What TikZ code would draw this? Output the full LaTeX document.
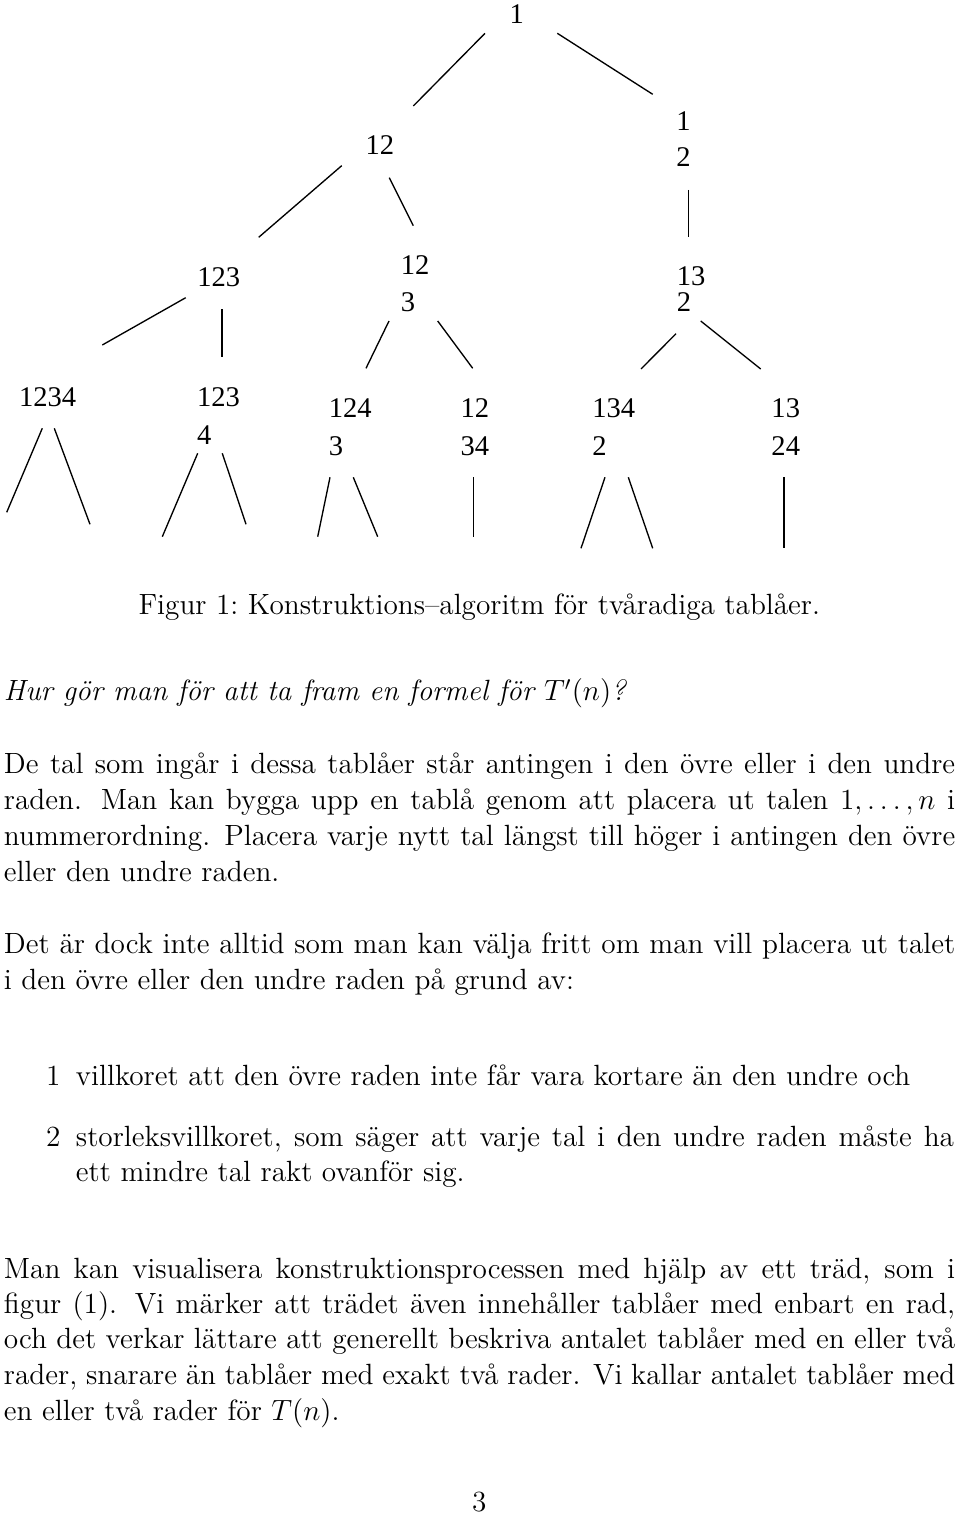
\documentclass[tikz,border=0pt]{standalone}
\usepackage{fontspec}
\newfontfamily\treefont{Liberation Serif}
\newcommand{\tbx}[3]{\vtop{\baselineskip=#3\lineskiplimit=-100pt\hbox{#1}\hbox{#2}}}
\newcommand{\jl}[1]{\makebox[390pt][s]{#1}}
\newcommand{\jli}[1]{\makebox[360pt][s]{#1}}
\begin{document}
\begin{tikzpicture}[x=0.41pt,y=-0.41pt,
  tn/.style={anchor=base west, inner sep=0pt, font=\treefont\fontsize{11.7}{14}\selectfont},
  body/.style={anchor=base west, inner sep=0pt, font=\fontsize{12}{14.5}\selectfont},
  bodyc/.style={anchor=base, inner sep=0pt, font=\fontsize{12}{14.5}\selectfont},
  lbl/.style={anchor=base east, inner sep=0pt, font=\fontsize{12}{14.5}\selectfont},
  edge/.style={line width=0.55pt, line cap=butt}]
\useasboundingbox (0,0) rectangle (960,1517);

% ---------- tree nodes ----------
\node[tn] (n1)    at (509.2,23.3)  {1};
\node[tn] (n12)   at (365.2,155)   {12};
\node[tn] (n1_2)  at (676,130.7)   {\tbx{1}{2}{14.76pt}};
\node[tn] (n123)  at (196.9,286.7) {123};
\node[tn] (n12_3) at (400.3,274.3) {\tbx{12}{3}{15.33pt}};
\node[tn] (n13_2) at (676.3,285.7) {\tbx{13}{2}{10.66pt}};
\node[tn] (n1234) at (18.6,406.7)  {1234};
\node[tn] (n123_4) at (196.7,406.7) {\tbx{123}{4}{15.46pt}};
\node[tn] (n124_3) at (328.3,417.7) {\tbx{124}{3}{15.7pt}};
\node[tn] (n12_34) at (460.2,417.7) {\tbx{12}{34}{15.7pt}};
\node[tn] (n134_2) at (591.8,417.7) {\tbx{134}{2}{15.7pt}};
\node[tn] (n13_24) at (771,417.7)   {\tbx{13}{24}{15.7pt}};

% ---------- tree edges ----------
\draw[edge] ([shift={(-24.2,10)}]n1.base west) -- ([shift={(48.1,-49)}]n12.base west);
\draw[edge] ([shift={(48.1,10)}]n1.base west) -- ([shift={(-23.3,-36.4)}]n1_2.base west);
\draw[edge] ([shift={(-23.5,10.7)}]n12.base west) -- ([shift={(61.8,-49.4)}]n123.base west);
\draw[edge] ([shift={(24.1,22.7)}]n12.base west) -- ([shift={(13,-48.6)}]n12_3.base west);
\draw[edge] ([shift={(12.7,59.3)}]n1_2.base west) -- ([shift={(12.4,-48.4)}]n13_2.base west);
\draw[edge] ([shift={(-11.2,11)}]n123.base west) -- ([shift={(83.7,-61.7)}]n1234.base west);
\draw[edge] ([shift={(25.1,22.6)}]n123.base west) -- ([shift={(25.3,-49.4)}]n123_4.base west);
\draw[edge] ([shift={(-11.3,46.7)}]n12_3.base west) -- ([shift={(37.7,-49.4)}]n124_3.base west);
\draw[edge] ([shift={(37.4,46.7)}]n12_3.base west) -- ([shift={(12.5,-49.4)}]n12_34.base west);
\draw[edge] ([shift={(-0.3,48)}]n13_2.base west) -- ([shift={(49.2,-48.7)}]n134_2.base west);
\draw[edge] ([shift={(24.4,35.3)}]n13_2.base west) -- ([shift={(-10.3,-48.7)}]n13_24.base west);
% leaf edges (free ends)
\draw[edge] ([shift={(23.7,21.6)}]n1234.base west) -- ([shift={(-11.9,105.6)}]n1234.base west);
\draw[edge] ([shift={(35.7,21.6)}]n1234.base west) -- ([shift={(71.4,117.6)}]n1234.base west);
\draw[edge] ([shift={(1,46.6)}]n123_4.base west) -- ([shift={(-34.4,130)}]n123_4.base west);
\draw[edge] ([shift={(25.6,46.6)}]n123_4.base west) -- ([shift={(49.3,117.6)}]n123_4.base west);
\draw[edge] ([shift={(1.7,59.6)}]n124_3.base west) -- ([shift={(-10.6,119)}]n124_3.base west);
\draw[edge] ([shift={(25,59.6)}]n124_3.base west) -- ([shift={(49.4,119)}]n124_3.base west);
\draw[edge] ([shift={(13.1,59.6)}]n12_34.base west) -- ([shift={(13.1,119)}]n12_34.base west);
\draw[edge] ([shift={(13.2,59.6)}]n134_2.base west) -- ([shift={(-10.8,130.6)}]n134_2.base west);
\draw[edge] ([shift={(36.5,59.6)}]n134_2.base west) -- ([shift={(60.9,130.6)}]n134_2.base west);
\draw[edge] ([shift={(13,59.6)}]n13_24.base west) -- ([shift={(13,130.6)}]n13_24.base west);

% ---------- caption and text ----------
\node[bodyc] (cap) at (479.3,614) {Figur 1:\ Konstruktions--algoritm för tvåradiga tablåer.};
\node[body] (q) at (3.5,700.7) {\itshape Hur gör man för att ta fram en formel för $T'(n)$?};

\node[body] (p1a) at (3.5,773.3) {\jl{De tal som ingår i dessa tablåer står antingen i den övre eller i den undre}};
\node[body] (p1b) at (3.5,809)   {\jl{raden. Man kan bygga upp en tablå genom att placera ut talen $1,\ldots,n$ i}};
\node[body] (p1c) at (3.5,845)   {\jl{nummerordning. Placera varje nytt tal längst till höger i antingen den övre}};
\node[body] (p1d) at (3.5,881)   {eller den undre raden.};

\node[body] (p2a) at (3.5,953.3) {\jl{Det är dock inte alltid som man kan välja fritt om man vill placera ut talet}};
\node[body] (p2b) at (3.5,989)   {i den övre eller den undre raden på grund av:};

\node[lbl]  (l1) at (61,1085) {1};
\node[body] (i1) at (75.5,1085) {villkoret att den övre raden inte får vara kortare än den undre och};
\node[lbl]  (l2) at (61,1146) {2};
\node[body] (i2a) at (75.5,1146) {\jli{storleksvillkoret, som säger att varje tal i den undre raden måste ha}};
\node[body] (i2b) at (75.5,1181.5) {ett mindre tal rakt ovanför sig.};

\node[body] (p3a) at (3.5,1278.3) {\jl{Man kan visualisera konstruktionsprocessen med hjälp av ett träd, som i}};
\node[body] (p3b) at (3.5,1313.5) {\jl{figur (1). Vi märker att trädet även innehåller tablåer med enbart en rad,}};
\node[body] (p3c) at (3.5,1348.8) {\jl{och det verkar lättare att generellt beskriva antalet tablåer med en eller två}};
\node[body] (p3d) at (3.5,1384.5) {\jl{rader, snarare än tablåer med exakt två rader. Vi kallar antalet tablåer med}};
\node[body] (p3e) at (3.5,1420)   {en eller två rader för $T(n)$.};

\node[bodyc] (pg) at (479.3,1511) {3};
\end{tikzpicture}
\end{document}
